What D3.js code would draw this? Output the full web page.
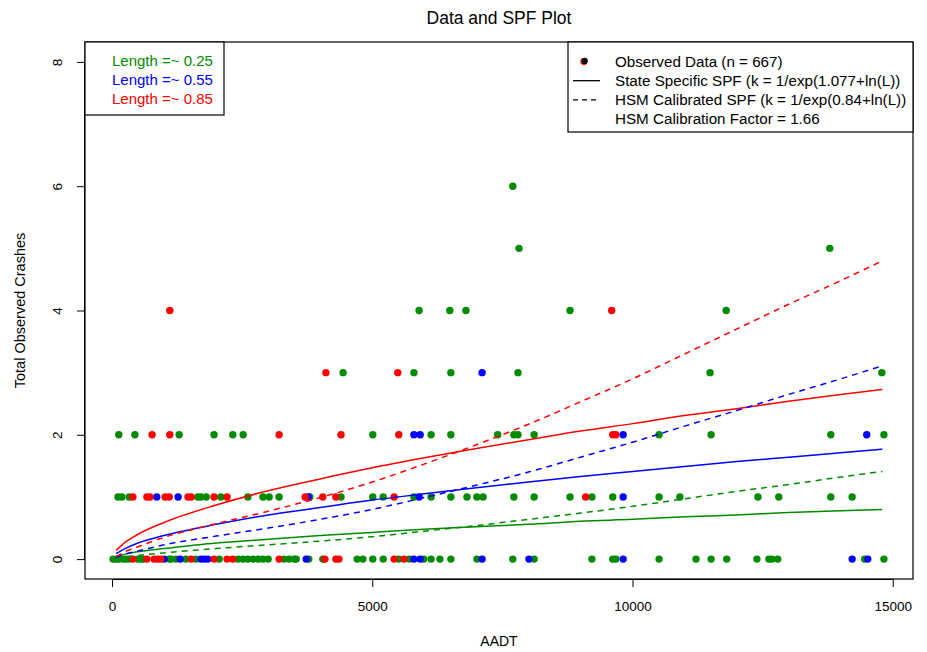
<!DOCTYPE html>
<html><head><meta charset="utf-8">
<script src="https://cdn.jsdelivr.net/npm/d3@7"></script>
<style>body{margin:0;background:#fff;} svg{display:block;font-family:"Liberation Sans",Arial,sans-serif;}</style>
</head><body><svg id="c" width="927" height="652"></svg>
<script>
// ---------- data ----------
const xTicks = [0, 5000, 10000, 15000];
const yTicks = [0, 2, 4, 6, 8];
const lengthLabels = ["Length =~ 0.25", "Length =~ 0.55", "Length =~ 0.85"];
const groupColors = ["#008B00", "#0000FF", "#FF0000"];

// observed data points [AADT, crashes]
const obsL025 = [
 [20,0],[80,0],[130,0],[210,0],[270,0],[330,0],[500,0],[560,0],[600,0],[1100,0],[1130,0],[1230,0],[1420,0],[1610,0],
 [2060,0],[2420,0],[2520,0],[2610,0],[2710,0],[2810,0],[2900,0],[3000,0],[3300,0],[3400,0],[3500,0],[3540,0],[3780,0],
 [4050,0],[4710,0],[4820,0],[5010,0],[5210,0],[5510,0],[5710,0],[5990,0],[6130,0],[6300,0],[6510,0],[7010,0],[7700,0],
 [8110,0],[9220,0],[9620,0],[9680,0],[10510,0],[11220,0],[11510,0],[11810,0],[12390,0],[12620,0],[12680,0],[12790,0],
 [14460,0],[14830,0],
 [115,1],[190,1],[330,1],[1650,1],[1710,1],[1810,1],[2090,1],[2610,1],[2900,1],[3020,1],[3210,1],[3800,1],[4400,1],
 [5010,1],[5210,1],[5800,1],[6130,1],[6510,1],[6820,1],[7010,1],[7130,1],[7720,1],[8110,1],[8800,1],[9220,1],[9620,1],
 [10510,1],[10910,1],[12410,1],[12810,1],[13810,1],[14220,1],
 [130,2],[440,2],[1290,2],[1960,2],[2320,2],[2520,2],[5010,2],[6130,2],[6510,2],[7410,2],[7720,2],[7800,2],[8110,2],
 [10510,2],[11510,2],[13810,2],[14830,2],
 [4440,3],[5800,3],[6510,3],[7800,3],[11490,3],[14790,3],
 [5900,4],[6490,4],[6800,4],[8800,4],[11800,4],
 [7820,5],[13790,5],
 [7700,6]
];
const obsL055 = [
 [1000,0],[1310,0],[1710,0],[1770,0],[1840,0],[3730,0],[5800,0],[5920,0],[7110,0],[8010,0],[9820,0],[14220,0],[14520,0],
 [860,1],[1270,1],[3770,1],[5900,1],[9820,1],
 [5800,2],[5920,2],[9820,2],[14500,2],
 [7110,3]
];
const obsL085 = [
 [400,0],[670,0],[810,0],[880,0],[940,0],[1520,0],[1960,0],[2210,0],[2320,0],[3210,0],[4090,0],[4300,0],[4360,0],[5420,0],[5610,0],
 [400,1],[670,1],[730,1],[1020,1],[1100,1],[1460,1],[1520,1],[1960,1],[2210,1],[3710,1],[4050,1],[4300,1],[5420,1],[9100,1],
 [770,2],[1110,2],[3210,2],[4400,2],[5510,2],[9620,2],[9680,2],
 [4110,3],[5490,3],
 [1110,4],[9600,4]
];

// SPF curves
const aadtGrid = [80, 250, 500, 1000, 2000, 3000, 4000, 5000, 6000, 7000, 8000, 9000, 10000, 11000, 12000, 13000, 14000, 14800];
const stateL025 = [0.04,0.08,0.12,0.17,0.26,0.32,0.38,0.43,0.48,0.52,0.56,0.61,0.64,0.68,0.71,0.75,0.78,0.80];
const stateL055 = [0.09,0.17,0.26,0.38,0.56,0.71,0.83,0.95,1.05,1.15,1.24,1.33,1.41,1.49,1.57,1.64,1.71,1.77];
const stateL085 = [0.14,0.27,0.40,0.59,0.87,1.10,1.29,1.47,1.63,1.78,1.92,2.06,2.18,2.31,2.42,2.54,2.65,2.73];
const hsmL025 = [0.01,0.035,0.06,0.10,0.17,0.23,0.29,0.36,0.45,0.54,0.64,0.74,0.85,0.97,1.09,1.20,1.32,1.41];
const hsmL055 = [0.03,0.08,0.13,0.23,0.37,0.50,0.64,0.80,0.99,1.19,1.40,1.64,1.88,2.14,2.39,2.65,2.90,3.11];
const hsmL085 = [0.04,0.12,0.20,0.35,0.57,0.77,0.99,1.24,1.53,1.84,2.17,2.53,2.90,3.30,3.70,4.10,4.48,4.80];

const legendTexts = ["Observed Data (n = 667)", "State Specific SPF (k = 1/exp(1.077+ln(L))",
  "HSM Calibrated SPF (k = 1/exp(0.84+ln(L))", "HSM Calibration Factor = 1.66"];

// ---------- drawing ----------
const svg = d3.select("#c");
const L = 85, R = 913, T = 42, B = 579;
const x = d3.scaleLinear().domain([-519, 15389]).range([L, R]);
const y = d3.scaleLinear().domain([-0.32, 8.32]).range([B, T]);

// title
svg.append("text").attr("x", (L + R) / 2).attr("y", 24).attr("text-anchor", "middle")
  .attr("font-size", 17.5).text("Data and SPF Plot");

// points
const groups = [obsL025, obsL055, obsL085];
groups.forEach((g, i) => {
  svg.append("g").selectAll("circle").data(g).join("circle")
    .attr("cx", d => x(d[0])).attr("cy", d => y(d[1])).attr("r", 3.7)
    .attr("fill", groupColors[i]);
});

// curves
const line = d3.line().x(d => x(d[0])).y(d => y(d[1])).curve(d3.curveMonotoneX);
const stateSeries = [stateL025, stateL055, stateL085];
const hsmSeries = [hsmL025, hsmL055, hsmL085];
stateSeries.forEach((s, i) => {
  svg.append("path").attr("d", line(aadtGrid.map((a, j) => [a, s[j]])))
    .attr("fill", "none").attr("stroke", groupColors[i]).attr("stroke-width", 1.5);
});
hsmSeries.forEach((s, i) => {
  svg.append("path").attr("d", line(aadtGrid.map((a, j) => [a, s[j]])))
    .attr("fill", "none").attr("stroke", groupColors[i]).attr("stroke-width", 1.5)
    .attr("stroke-dasharray", "6,5");
});

// axes
const xAxis = d3.axisBottom(x).tickValues(xTicks).tickSize(8).tickPadding(14).tickFormat(d3.format("d"));
const gx = svg.append("g").attr("transform", `translate(0,${B})`).call(xAxis);
gx.select(".domain").attr("d", `M${x(0)},0.5H${x(15000)}`);
gx.selectAll("text").attr("font-size", 13.5).attr("font-family", "Liberation Sans, Arial, sans-serif").attr("fill", "#000");

const yAxis = d3.axisLeft(y).tickValues(yTicks).tickSize(8).tickFormat(d3.format("d"));
const gy = svg.append("g").attr("transform", `translate(${L},0)`).call(yAxis);
gy.select(".domain").attr("d", `M-0.5,${y(0)}V${y(8)}`);
gy.selectAll("text").attr("font-size", 13.5).attr("font-family", "Liberation Sans, Arial, sans-serif").attr("fill", "#000")
  .attr("x", 0).attr("dy", 0)
  .attr("transform", d => `translate(-27,${0}) rotate(-90)`).attr("text-anchor", "middle").attr("dominant-baseline", "middle");

// box
svg.append("rect").attr("x", L).attr("y", T).attr("width", R - L).attr("height", B - T)
  .attr("fill", "none").attr("stroke", "#000").attr("stroke-width", 1.2);

// axis titles
svg.append("text").attr("x", (L + R) / 2).attr("y", 646).attr("text-anchor", "middle")
  .attr("font-size", 14).text("AADT");
svg.append("text").attr("transform", `translate(25,${(T + B) / 2}) rotate(-90)`).attr("text-anchor", "middle")
  .attr("font-size", 14.5).text("Total Observed Crashes");

// left legend (lengths)
svg.append("rect").attr("x", L).attr("y", T).attr("width", 139).attr("height", 73)
  .attr("fill", "#fff").attr("stroke", "#000").attr("stroke-width", 1.2);
lengthLabels.forEach((t, i) => {
  svg.append("text").attr("x", 112).attr("y", 65.5 + i * 19.3).attr("font-size", 15)
    .attr("fill", groupColors[i]).text(t);
});

// right legend
const lx = 568, ly = T;
svg.append("rect").attr("x", lx).attr("y", ly).attr("width", R - lx).attr("height", 90)
  .attr("fill", "#fff").attr("stroke", "#000").attr("stroke-width", 1.2);
const rowY = i => 61.5 + i * 19.2;
svg.append("circle").attr("cx", 584).attr("cy", rowY(0)).attr("r", 3.6).attr("fill", "#FF0000");
svg.append("circle").attr("cx", 584.6).attr("cy", rowY(0) - 0.6).attr("r", 3.1).attr("fill", "#000");
svg.append("line").attr("x1", 573).attr("x2", 600).attr("y1", rowY(1)).attr("y2", rowY(1))
  .attr("stroke", "#000").attr("stroke-width", 1.3);
svg.append("line").attr("x1", 573).attr("x2", 600).attr("y1", rowY(2)).attr("y2", rowY(2))
  .attr("stroke", "#000").attr("stroke-width", 1.3).attr("stroke-dasharray", "5,4");
legendTexts.forEach((t, i) => {
  svg.append("text").attr("x", 615).attr("y", rowY(i) + 5.2).attr("font-size", 15.2).text(t);
});
</script></body></html>
